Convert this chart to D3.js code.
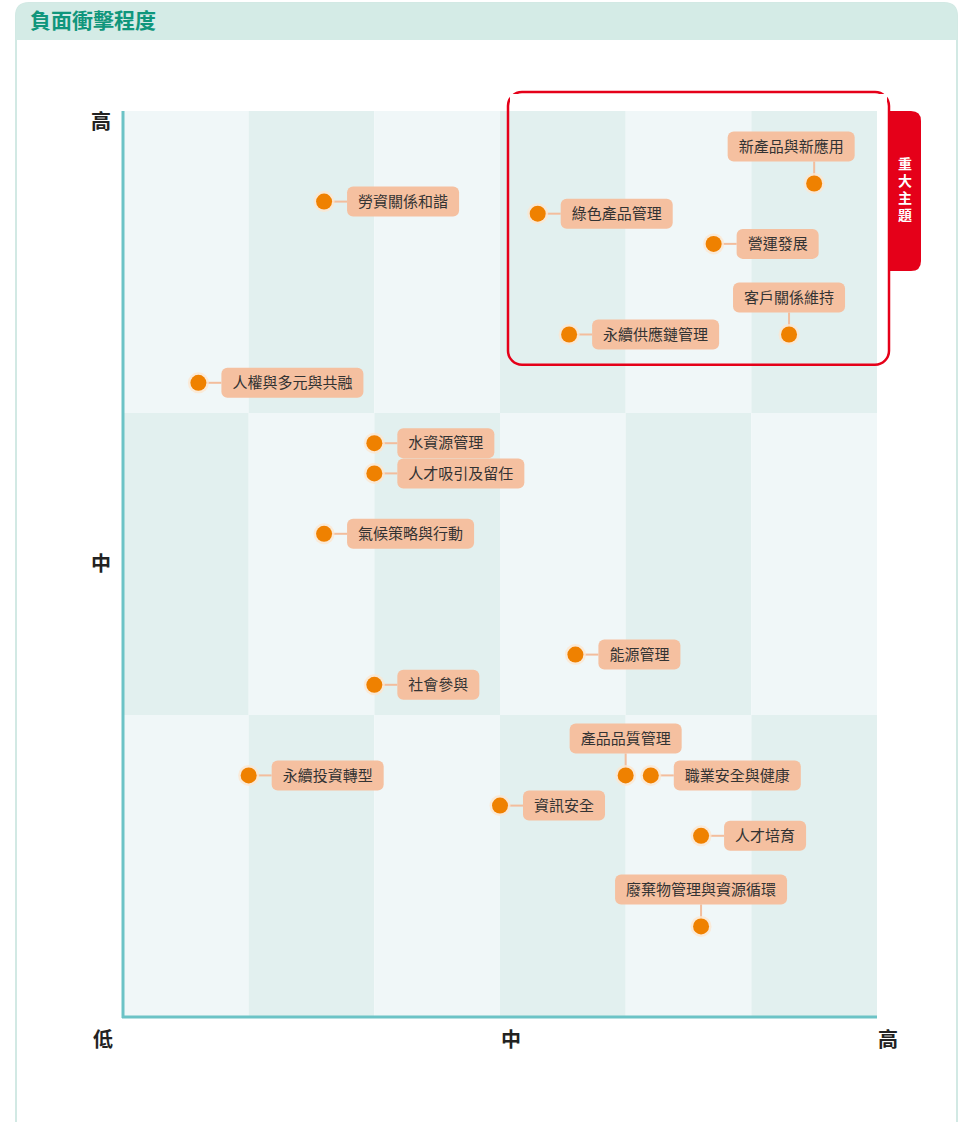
<html>
<head>
<meta charset="utf-8">
<script src="https://d3js.org/d3.v7.min.js"></script>
<style>
body { margin: 0; background: #fff; }
text { font-family: "Noto Sans CJK TC", "Noto Sans", sans-serif; }
</style>
</head>
<body>
<svg width="961" height="1122"></svg>
<script>

// chart data
var title = "負面衝擊程度";
var topics = ["新產品與新應用", "綠色產品管理", "營運發展", "客戶關係維持", "永續供應鏈管理",
	"勞資關係和諧", "人權與多元與共融", "水資源管理", "人才吸引及留任", "氣候策略與行動",
	"能源管理", "社會參與", "產品品質管理", "職業安全與健康", "永續投資轉型",
	"資訊安全", "人才培育", "廢棄物管理與資源循環"];
var xValues = [5.5, 3.3, 4.7, 5.3, 3.55, 1.6, 0.6, 2.0, 2.0, 1.6, 3.6, 2.0, 4.0, 4.2, 1.0, 3.0, 4.6, 4.6];
var yValues = [2.76, 2.66, 2.56, 2.26, 2.26, 2.7, 2.1, 1.9, 1.8, 1.6, 1.2, 1.1, 0.8, 0.8, 0.8, 0.7, 0.6, 0.3];
var xTickLabels = ["低", "中", "高"];
var yTickLabels = ["中", "高"];
var highlightLabel = "重大主題";

// label placement (top labels sit above the dot)
var placement = {"新產品與新應用": "top-left", "客戶關係維持": "top", "產品品質管理": "top", "廢棄物管理與資源循環": "top"};

var svg = d3.select("svg");
var margin = {top: 111, left: 123, right: 84, bottom: 105};
var width = 961 - margin.left - margin.right,
	height = 1122 - margin.top - margin.bottom;

var x = d3.scaleLinear().domain([0, 6]).range([margin.left, margin.left + width]);
var y = d3.scaleLinear().domain([0, 3]).range([margin.top + height, margin.top]);

// card
svg.append("path")
	.attr("d", "M16,1122 V16 Q16,3 29,3 H944 Q957,3 957,16 V1122")
	.attr("fill", "#fff")
	.attr("stroke", "#d2e9e4")
	.attr("stroke-width", 2);
svg.append("path")
	.attr("d", "M16,40 V16 Q16,3 29,3 H944 Q957,3 957,16 V40 Z")
	.attr("fill", "#d4ebe6");
svg.append("text")
	.attr("x", 30).attr("y", 28)
	.attr("fill", "#10967c")
	.attr("font-size", 21)
	.attr("font-weight", "bold")
	.text(title);

// checkerboard background
var cells = [];
d3.range(6).forEach(function(i) {
	d3.range(3).forEach(function(j) { cells.push({c: i, r: j}); });
});
svg.append("g").selectAll("rect").data(cells).enter().append("rect")
	.attr("x", function(d) { return x(d.c); })
	.attr("y", function(d) { return y(d.r + 1); })
	.attr("width", x(1) - x(0))
	.attr("height", y(0) - y(1))
	.attr("fill", function(d) { return (d.c + d.r) % 2 == 0 ? "#f0f7f8" : "#e2f0ef"; });

// axes
svg.append("line")
	.attr("x1", x(0)).attr("x2", x(0))
	.attr("y1", y(3)).attr("y2", y(0) + 1)
	.attr("stroke", "#6cc3c6").attr("stroke-width", 3);
svg.append("line")
	.attr("x1", x(0) - 1).attr("x2", x(6))
	.attr("y1", y(0)).attr("y2", y(0))
	.attr("stroke", "#6cc3c6").attr("stroke-width", 3);

var axisFont = {size: 20};
svg.append("g").selectAll("text").data(xTickLabels).enter().append("text")
	.attr("x", function(d, i) { return i == 0 ? x(0) - 20 : x(i * 3) + 11; })
	.attr("y", y(0) + 23)
	.attr("dy", "0.35em")
	.attr("text-anchor", "middle")
	.attr("font-size", axisFont.size)
	.attr("font-weight", "bold")
	.attr("fill", "#222")
	.text(function(d) { return d; });
svg.append("g").selectAll("text").data(yTickLabels).enter().append("text")
	.attr("x", x(0) - 22)
	.attr("y", function(d, i) { return i == 0 ? y(1.5) : y(3) + 11; })
	.attr("dy", "0.35em")
	.attr("text-anchor", "middle")
	.attr("font-size", axisFont.size)
	.attr("font-weight", "bold")
	.attr("fill", "#222")
	.text(function(d) { return d; });

// material topics box
var bx0 = x(3) + 8, bx1 = x(6) + 12, by0 = y(3) - 19, by1 = y(2.16);
svg.append("path")
	.attr("d", "M" + (bx1 - 1) + "," + y(3) + " h23 q10,0 10,10 v140 q0,10 -10,10 h-23 Z")
	.attr("fill", "#e50019");
svg.append("rect")
	.attr("x", bx0).attr("y", by0)
	.attr("width", bx1 - bx0).attr("height", by1 - by0)
	.attr("rx", 14)
	.attr("fill", "none")
	.attr("stroke", "#e50019")
	.attr("stroke-width", 2.5);
svg.append("rect")
	.attr("x", bx0 + 2).attr("y", by0 + 2)
	.attr("width", bx1 - bx0 - 4).attr("height", y(3) - by0 - 2)
	.attr("fill", "#fff");
// vertical tab text
svg.append("text")
	.attr("x", bx1 + 16)
	.attr("y", y(3) + 80)
	.attr("writing-mode", "vertical-rl")
	.attr("text-anchor", "middle")
	.attr("letter-spacing", 3)
	.attr("font-size", 14)
	.attr("font-weight", "bold")
	.attr("fill", "#fff")
	.text(highlightLabel);

// topics
var data = topics.map(function(t, i) {
	return {name: t, x: xValues[i], y: yValues[i], side: placement[t] || "right"};
});

var g = svg.append("g").selectAll("g").data(data).enter().append("g")
	.attr("transform", function(d) { return "translate(" + x(d.x) + "," + y(d.y) + ")"; });

var boxH = 30, gap = 23;
g.each(function(d) {
	var node = d3.select(this);
	var link = node.append("line").attr("stroke", "#f3bd9c").attr("stroke-width", 2);
	var box = node.append("rect").attr("rx", 6).attr("fill", "#f5c0a0").attr("height", boxH);
	var label = node.append("text")
		.attr("font-size", 15)
		.attr("fill", "#333")
		.attr("dy", "0.35em")
		.attr("text-anchor", "middle")
		.text(d.name);
	var w = label.node().getComputedTextLength() + 22;
	var cx, cy;
	if (d.side == "right") {
		cx = gap + w / 2; cy = 0;
		link.attr("x1", 0).attr("y1", 0).attr("x2", gap).attr("y2", 0);
	} else {
		cx = d.side == "top-left" ? -23 : 0;
		cy = -22 - boxH / 2;
		link.attr("x1", 0).attr("y1", 0).attr("x2", 0).attr("y2", -22);
	}
	box.attr("x", cx - w / 2).attr("y", cy - boxH / 2).attr("width", w);
	label.attr("x", cx).attr("y", cy);
	node.append("circle").attr("r", 10.5).attr("fill", "#fde6cf").attr("opacity", 0.8);
	node.append("circle").attr("r", 8).attr("fill", "#ef8100");
});
</script>
</body>
</html>
